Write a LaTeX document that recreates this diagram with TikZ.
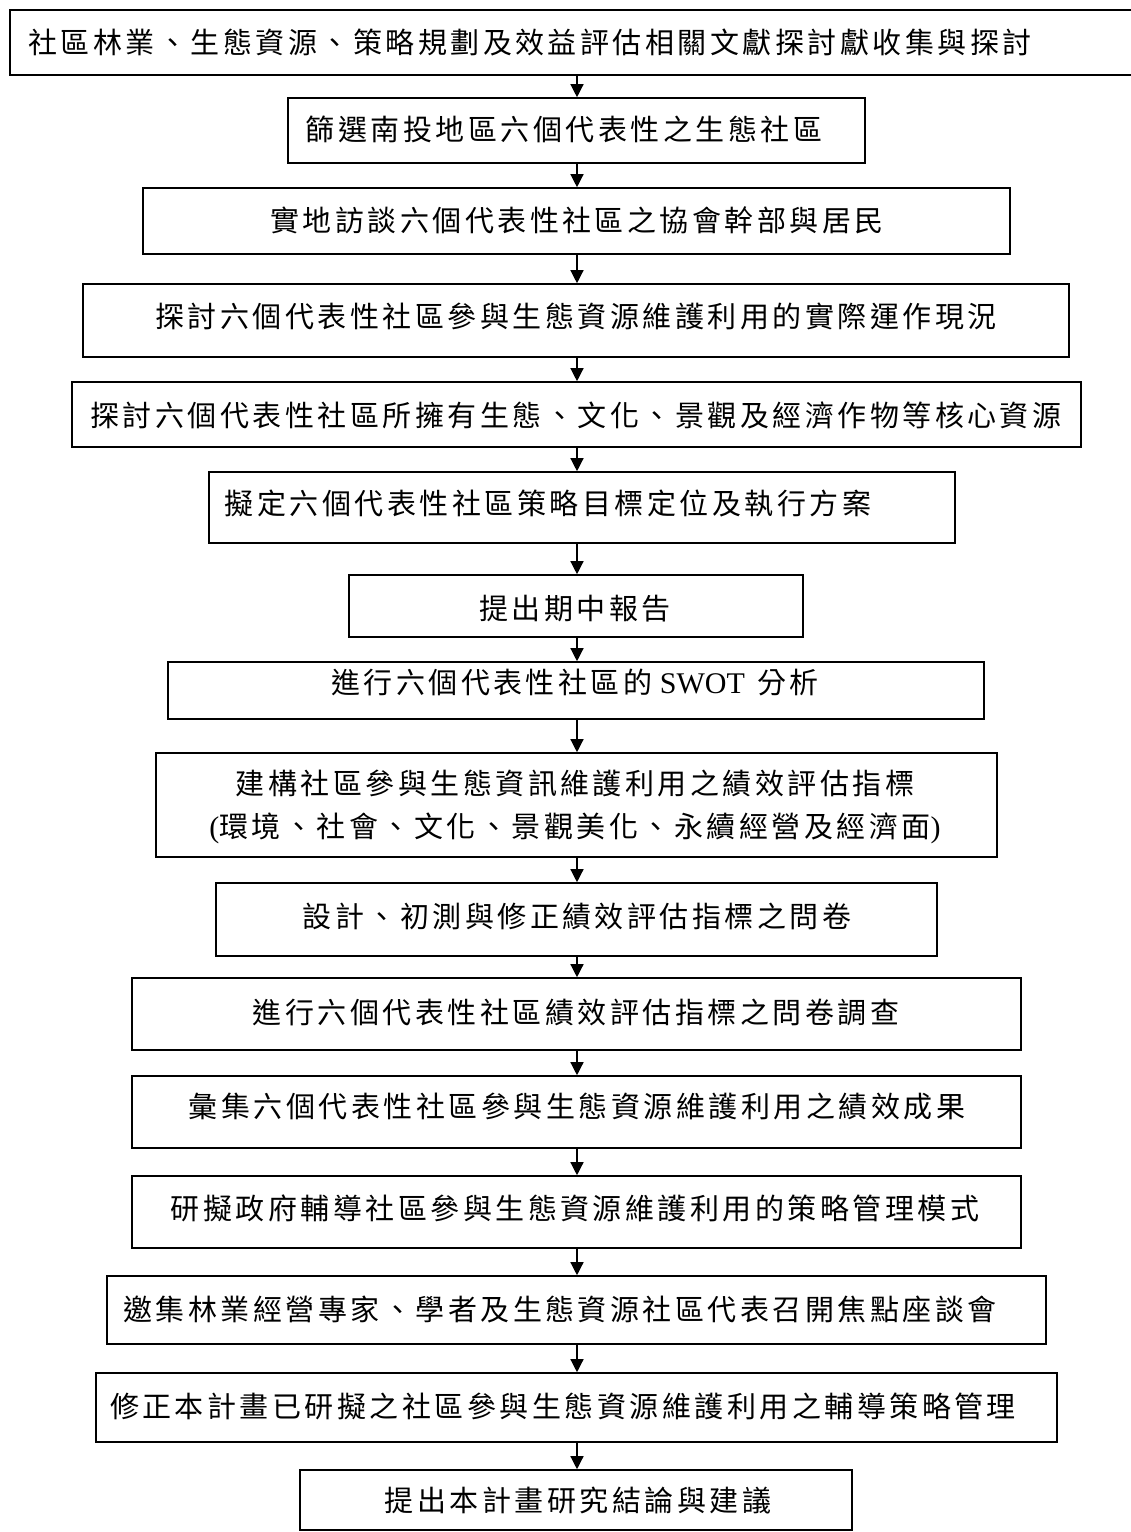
\documentclass[tikz,border=0pt]{standalone}
\usepackage{fontspec}
\setmainfont{Liberation Serif}
\newfontfamily\cjk[LetterSpace=12]{Noto Sans CJK TC}
\usetikzlibrary{arrows.meta}
\tikzset{
  box/.style={draw=black, line width=1.6pt, rectangle, inner sep=0pt},
  txt/.style={inner sep=0pt, font=\fontsize{29pt}{43pt}\selectfont\cjk, align=center},
  arr/.style={line width=1.3pt, -{Triangle[length=13pt,width=13pt]}}
}
\newcommand{\lat}[1]{{\rmfamily\fontsize{30pt}{43pt}\selectfont #1}}
\begin{document}
\begin{tikzpicture}[x=1pt,y=-1pt]
\useasboundingbox (0,0) rectangle (1131,1532);
\coordinate (ax) at (577,0);
% boxes
\node[box, minimum width=1130pt, minimum height=65pt] (b1) at (575,42.5) {};
\node[box, minimum width=577pt, minimum height=65pt] (b2) at (576.5,130.5) {};
\node[box, minimum width=867pt, minimum height=66pt] (b3) at (576.5,221) {};
\node[box, minimum width=986pt, minimum height=73pt] (b4) at (576,320.5) {};
\node[box, minimum width=1009pt, minimum height=65pt] (b5) at (576.5,414.5) {};
\node[box, minimum width=746pt, minimum height=71pt] (b6) at (582,507.5) {};
\node[box, minimum width=454pt, minimum height=62pt] (b7) at (576,606) {};
\node[box, minimum width=816pt, minimum height=57pt] (b8) at (576,690.5) {};
\node[box, minimum width=841pt, minimum height=104pt] (b9) at (576.5,805) {};
\node[box, minimum width=721pt, minimum height=73pt] (b10) at (576.5,919.5) {};
\node[box, minimum width=889pt, minimum height=72pt] (b11) at (576.5,1014) {};
\node[box, minimum width=889pt, minimum height=72pt] (b12) at (576.5,1112) {};
\node[box, minimum width=889pt, minimum height=72pt] (b13) at (576.5,1212) {};
\node[box, minimum width=939pt, minimum height=68pt] (b14) at (576.5,1310) {};
\node[box, minimum width=961pt, minimum height=69pt] (b15) at (576.5,1407.5) {};
\node[box, minimum width=552pt, minimum height=60pt] (b16) at (576,1500) {};
% texts
\node[txt] (t1) at (530,42) {社區林業、生態資源、策略規劃及效益評估相關文獻探討獻收集與探討};
\node[txt] (t2) at (564,129) {篩選南投地區六個代表性之生態社區};
\node[txt] (t3) at (577,220) {實地訪談六個代表性社區之協會幹部與居民};
\node[txt] (t4) at (576,316) {探討六個代表性社區參與生態資源維護利用的實際運作現況};
\node[txt] (t5) at (576,415) {探討六個代表性社區所擁有生態、文化、景觀及經濟作物等核心資源};
\node[txt] (t6) at (548,503) {擬定六個代表性社區策略目標定位及執行方案};
\node[txt] (t7) at (575,609) {提出期中報告};
\node[txt] (t8) at (575,682) {進行六個代表性社區的\lat{\ SWOT\ \,}分析};
\node[txt] (t9) at (575,807) {建構社區參與生態資訊維護利用之績效評估指標\\\lat{(}環境、社會、文化、景觀美化、永續經營及經濟面\lat{)}};
\node[txt] (t10) at (577,916) {設計、初測與修正績效評估指標之問卷};
\node[txt] (t11) at (576,1012) {進行六個代表性社區績效評估指標之問卷調查};
\node[txt] (t12) at (577,1106) {彙集六個代表性社區參與生態資源維護利用之績效成果};
\node[txt] (t13) at (575,1208) {研擬政府輔導社區參與生態資源維護利用的策略管理模式};
\node[txt] (t14) at (560,1309) {邀集林業經營專家、學者及生態資源社區代表召開焦點座談會};
\node[txt] (t15) at (563,1406) {修正本計畫已研擬之社區參與生態資源維護利用之輔導策略管理};
\node[txt] (t16) at (578,1501) {提出本計畫研究結論與建議};
% arrows
\draw[arr] (b1.south -| ax) -- (b2.north -| ax);
\draw[arr] (b2.south -| ax) -- (b3.north -| ax);
\draw[arr] (b3.south -| ax) -- (b4.north -| ax);
\draw[arr] (b4.south -| ax) -- (b5.north -| ax);
\draw[arr] (b5.south -| ax) -- (b6.north -| ax);
\draw[arr] (b6.south -| ax) -- (b7.north -| ax);
\draw[arr] (b7.south -| ax) -- (b8.north -| ax);
\draw[arr] (b8.south -| ax) -- (b9.north -| ax);
\draw[arr] (b9.south -| ax) -- (b10.north -| ax);
\draw[arr] (b10.south -| ax) -- (b11.north -| ax);
\draw[arr] (b11.south -| ax) -- (b12.north -| ax);
\draw[arr] (b12.south -| ax) -- (b13.north -| ax);
\draw[arr] (b13.south -| ax) -- (b14.north -| ax);
\draw[arr] (b14.south -| ax) -- (b15.north -| ax);
\draw[arr] (b15.south -| ax) -- (b16.north -| ax);
\end{tikzpicture}
\end{document}
